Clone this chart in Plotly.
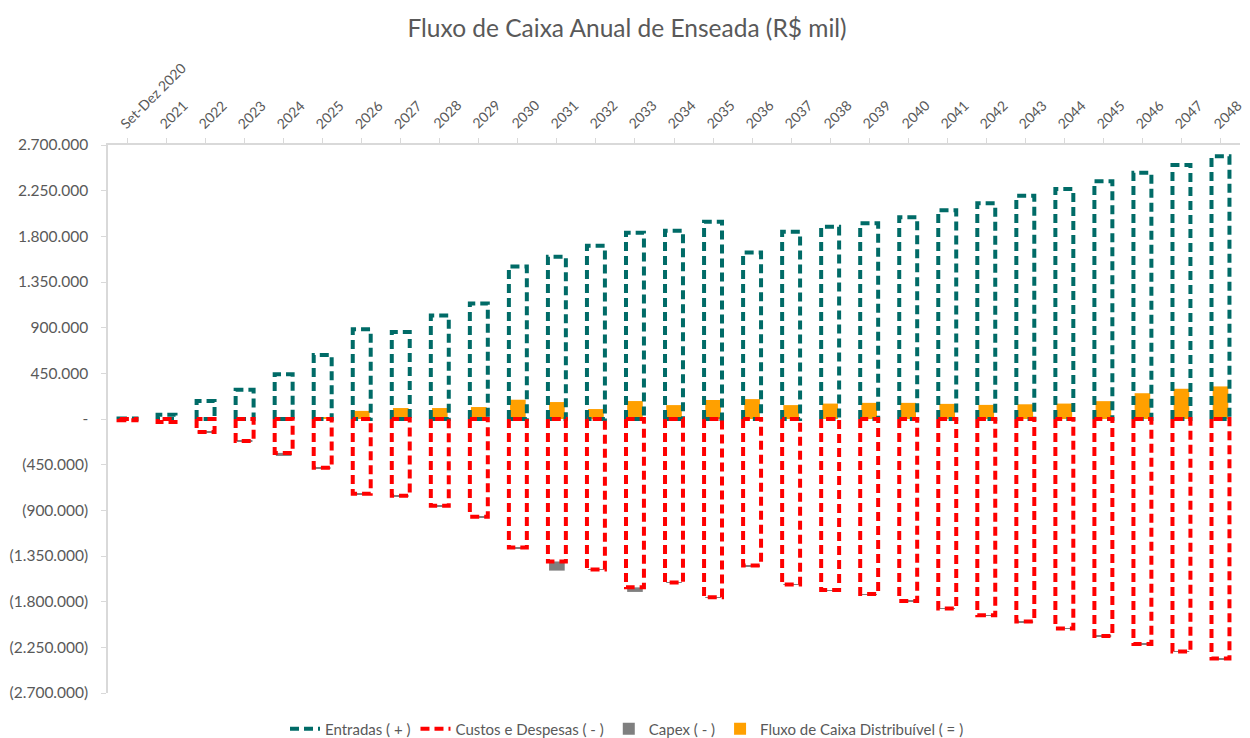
import plotly.graph_objects as go

categories = ["Set-Dez 2020", "2021", "2022", "2023", "2024", "2025", "2026", "2027",
              "2028", "2029", "2030", "2031", "2032", "2033", "2034", "2035", "2036",
              "2037", "2038", "2039", "2040", "2041", "2042", "2043", "2044", "2045",
              "2046", "2047", "2048"]

entradas = [6000, 42000, 178000, 288000, 440000, 630000, 884000, 857000, 1021000, 1139000,
            1502000, 1600000, 1708000, 1836000, 1856000, 1944000, 1640000, 1846000, 1894000,
            1928000, 1989000, 2057000, 2125000, 2199000, 2267000, 2344000, 2426000, 2503000,
            2588000]

custos = [-12000, -30000, -128000, -216000, -334000, -481000, -736000, -756000, -854000,
          -962000, -1267000, -1404000, -1482000, -1659000, -1610000, -1757000, -1443000,
          -1630000, -1685000, -1725000, -1793000, -1867000, -1935000, -1996000, -2064000,
          -2138000, -2216000, -2290000, -2361000]

capex = [0, 0, -2000, -10000, -30000, -12000, -8000, -8000, -8000, -6000, -6000, -90000,
         -6000, -45000, -6000, -6000, -6000, -5000, -5000, -5000, -5000, -5000, -5000,
         -5000, -5000, -5000, -5000, -5000, -5000]

fluxo = [0, 0, 0, 0, 0, 10000, 80000, 108000, 108000, 118000, 190000, 167000, 98000,
         177000, 137000, 187000, 196000, 137000, 152000, 159000, 159000, 149000, 139000,
         145000, 152000, 176000, 254000, 298000, 321000]

y_tickvals = [2700000, 2250000, 1800000, 1350000, 900000, 450000, 0, -450000, -900000,
              -1350000, -1800000, -2250000, -2700000]
y_ticktext = ["2.700.000", "2.250.000", "1.800.000", "1.350.000", "900.000", "450.000", "-",
              "(450.000)", "(900.000)", "(1.350.000)", "(1.800.000)", "(2.250.000)",
              "(2.700.000)"]

TEAL = "#006B67"
RED = "#FF0000"
GREY = "#7F7F7F"
ORANGE = "#FFA000"
TXT = "#595959"
FONT = "Lato"

xpos = list(range(len(categories)))
W = 0.46

# the page body adds an 8px offset; the figure is sized to compensate
FIG_W, FIG_H = 1242, 730
M_L, M_R, M_T, M_B = 100, 10, 137, 45


def outline(values):
    xs, ys = [], []
    for i, v in zip(xpos, values):
        l, r = i - W / 2, i + W / 2
        xs += [l, l, r, r, l, None]
        ys += [0, v, v, 0, 0, None]
    return xs, ys


fig = go.Figure()

ex, ey = outline(entradas)
fig.add_trace(go.Scatter(x=ex, y=ey, mode="lines", name="Entradas ( + )",
                         line=dict(color=TEAL, width=4, dash="9px,5px"),
                         hoverinfo="skip"))
cx, cy = outline(custos)
fig.add_trace(go.Scatter(x=cx, y=cy, mode="lines", name="Custos e Despesas ( - )",
                         line=dict(color=RED, width=4, dash="9px,5px"),
                         hoverinfo="skip"))
fig.add_trace(go.Bar(x=xpos, y=capex, base=custos, name="Capex ( - )",
                     marker=dict(color=GREY, line=dict(width=0)), width=0.40))
fig.add_trace(go.Bar(x=xpos, y=fluxo, name="Fluxo de Caixa Distribuível ( = )",
                     marker=dict(color=ORANGE, line=dict(width=0)), width=0.40))

for i, cat in zip(xpos, categories):
    fig.add_annotation(x=i, y=1, xref="x", yref="paper", text=cat, showarrow=False,
                       textangle=-45, xanchor="left", yanchor="bottom",
                       xshift=-12, yshift=12, borderpad=0,
                       font=dict(family=FONT, size=14, color=TXT))

plot_h = FIG_H - M_T - M_B
plot_w = FIG_W - M_L - M_R

fig.update_layout(
    width=FIG_W, height=FIG_H,
    paper_bgcolor="white", plot_bgcolor="white",
    barmode="overlay",
    margin=dict(l=M_L, r=M_R, t=M_T, b=M_B, autoexpand=False),
    font=dict(family=FONT, color=TXT, size=15),
    title=dict(text="Fluxo de Caixa Anual de Enseada (R$ mil)", x=619 / FIG_W,
               xref="container", xanchor="center", y=1 - 20 / FIG_H, yanchor="middle",
               font=dict(family=FONT, size=24.5, color=TXT)),
    showlegend=True,
    legend=dict(orientation="h", x=(619 - M_L) / plot_w, xanchor="center",
                y=-(721 - (M_T + plot_h)) / plot_h, yanchor="middle",
                font=dict(family=FONT, size=15, color=TXT), traceorder="normal",
                itemwidth=30),
    xaxis=dict(side="top", range=[-0.5, len(categories) - 0.5], tickmode="array",
               tickvals=xpos, showticklabels=False, showgrid=False,
               zeroline=False, showline=True, linecolor="#D9D9D9", linewidth=1.5,
               ticks="outside", ticklen=5, tickcolor="#D9D9D9"),
    yaxis=dict(range=[-2700000, 2700000], tickmode="array", tickvals=y_tickvals,
               ticktext=y_ticktext, showgrid=False, zeroline=False, showline=True,
               linecolor="#D9D9D9", linewidth=1.5, ticks="outside", ticklen=5,
               tickcolor="#D9D9D9", ticklabelstandoff=10,
               tickfont=dict(family=FONT, size=15.5, color=TXT)),
)

fig.write_html("out.html")
